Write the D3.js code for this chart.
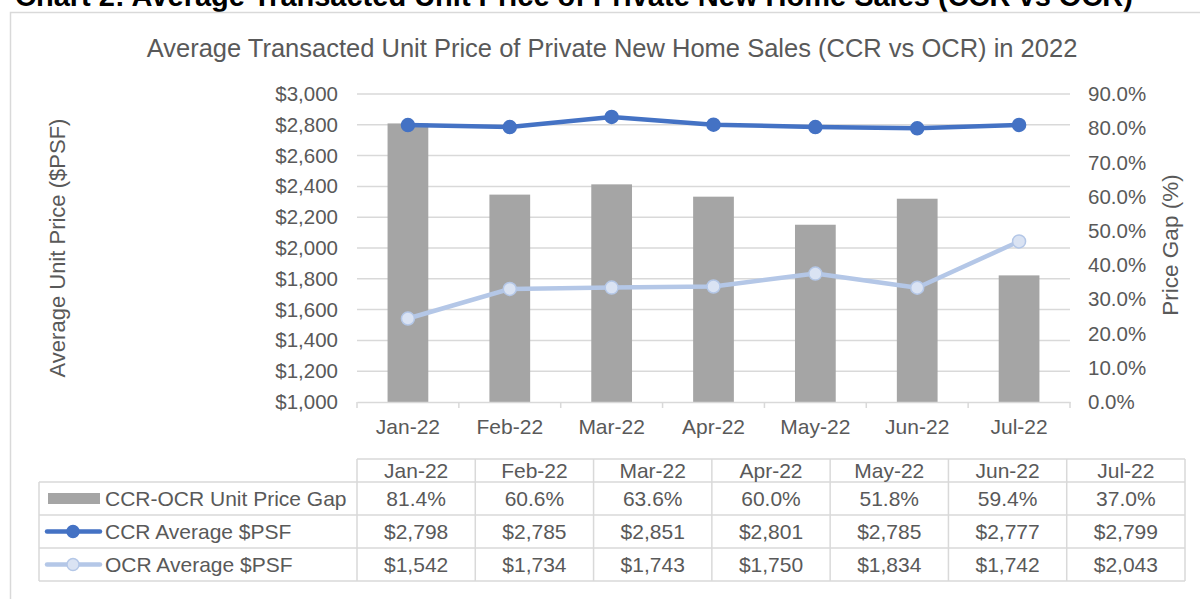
<!DOCTYPE html>
<html>
<head>
<meta charset="utf-8">
<script src="https://cdn.jsdelivr.net/npm/d3@7"></script>
<style>
  body { margin: 0; background: #fff; }
  svg { display: block; font-family: "Liberation Sans", Arial, sans-serif; }
</style>
</head>
<body>
<div id="vis"></div>
<script>
// data
const months = ['Jan-22', 'Feb-22', 'Mar-22', 'Apr-22', 'May-22', 'Jun-22', 'Jul-22'];
const gapPct = [81.4, 60.6, 63.6, 60.0, 51.8, 59.4, 37.0];
const ccrPsf = [2798, 2785, 2851, 2801, 2785, 2777, 2799];
const ocrPsf = [1542, 1734, 1743, 1750, 1834, 1742, 2043];
const priceTicks = [1000, 1200, 1400, 1600, 1800, 2000, 2200, 2400, 2600, 2800, 3000];
const pctTicks = [0, 10, 20, 30, 40, 50, 60, 70, 80, 90];

const width = 1200, height = 599;
const textColor = '#595959';
const gridColor = '#d9d9d9';
const barColor = '#a5a5a5';
const ccrColor = '#4472c4';
const ocrColor = '#b4c7e7';
const ocrFill = '#dae3f3';

const svg = d3.select('#vis').append('svg')
  .attr('width', width)
  .attr('height', height);

// bold header, mostly cut off at the top
svg.append('text')
  .attr('x', 15)
  .attr('y', 6)
  .attr('font-size', 29)
  .attr('font-weight', 'bold')
  .attr('fill', '#000')
  .text('Chart 2: Average Transacted Unit Price of Private New Home Sales (CCR vs OCR)');

// chart frame
svg.append('rect')
  .attr('x', 10.5).attr('y', 12.5)
  .attr('width', 1200).attr('height', 600)
  .attr('fill', 'none')
  .attr('stroke', gridColor)
  .attr('stroke-width', 1.5);

svg.append('text')
  .attr('x', 612)
  .attr('y', 57)
  .attr('text-anchor', 'middle')
  .attr('font-size', 25.5)
  .attr('fill', textColor)
  .text('Average Transacted Unit Price of Private New Home Sales (CCR vs OCR) in 2022');

// scales
const plot = { left: 357, right: 1070, top: 94, bottom: 402 };

const x = d3.scaleBand()
  .domain(months)
  .range([plot.left, plot.right])
  .paddingInner(0.6)
  .paddingOuter(0.3);

const yLeft = d3.scaleLinear().domain([1000, 3000]).range([plot.bottom, plot.top]);
const yRight = d3.scaleLinear().domain([0, 90]).range([plot.bottom, plot.top]);

// gridlines from the left axis
svg.append('g')
  .selectAll('line')
  .data(priceTicks.slice(1))
  .join('line')
  .attr('x1', plot.left).attr('x2', plot.right)
  .attr('y1', d => yLeft(d)).attr('y2', d => yLeft(d))
  .attr('stroke', gridColor)
  .attr('stroke-width', 1.5);

// left axis labels
const fmtPrice = d => '$' + d3.format(',')(d);
const leftAxis = d3.axisLeft(yLeft).tickValues(priceTicks).tickFormat(fmtPrice).tickSize(0).tickPadding(19);
const gL = svg.append('g').attr('transform', `translate(${plot.left},0)`).call(leftAxis);
gL.select('.domain').remove();
gL.selectAll('text').attr('font-size', 20.5).attr('fill', textColor).attr('font-family', 'inherit');

// right axis labels
const rightAxis = d3.axisRight(yRight).tickValues(pctTicks).tickFormat(d => d.toFixed(1) + '%').tickSize(0).tickPadding(18);
const gR = svg.append('g').attr('transform', `translate(${plot.right},0)`).call(rightAxis);
gR.select('.domain').remove();
gR.selectAll('text').attr('font-size', 20.5).attr('fill', textColor).attr('font-family', 'inherit');

// bars (right axis)
svg.append('g')
  .selectAll('rect')
  .data(months)
  .join('rect')
  .attr('x', d => x(d))
  .attr('width', x.bandwidth())
  .attr('y', (d, i) => yRight(gapPct[i]))
  .attr('height', (d, i) => plot.bottom - yRight(gapPct[i]))
  .attr('fill', barColor);

// x axis
const xAxis = d3.axisBottom(x).tickSize(0).tickPadding(17);
const gX = svg.append('g').attr('transform', `translate(0,${plot.bottom})`).call(xAxis);
gX.select('.domain').attr('stroke', gridColor).attr('stroke-width', 1.5);
gX.selectAll('text').attr('font-size', 21).attr('fill', textColor).attr('font-family', 'inherit');
const step = x.step();
const bounds = d3.range(months.length + 1).map(i => plot.left + i * step);
gX.selectAll('.bound')
  .data(bounds)
  .join('line')
  .attr('class', 'bound')
  .attr('x1', d => d).attr('x2', d => d)
  .attr('y1', 0).attr('y2', 6)
  .attr('stroke', gridColor)
  .attr('stroke-width', 1.5);

// lines (left axis)
const cx = d => x(d) + x.bandwidth() / 2;
function drawSeries(values, stroke, fill) {
  const line = d3.line().x((d, i) => cx(months[i])).y(d => yLeft(d));
  svg.append('path')
    .datum(values)
    .attr('d', line)
    .attr('fill', 'none')
    .attr('stroke', stroke)
    .attr('stroke-width', 4.5)
    .attr('stroke-linejoin', 'round');
  svg.append('g')
    .selectAll('circle')
    .data(values)
    .join('circle')
    .attr('cx', (d, i) => cx(months[i]))
    .attr('cy', d => yLeft(d))
    .attr('r', 6.5)
    .attr('fill', fill)
    .attr('stroke', stroke)
    .attr('stroke-width', 1.5);
}
drawSeries(ccrPsf, ccrColor, ccrColor);
drawSeries(ocrPsf, ocrColor, ocrFill);

// axis titles
svg.append('text')
  .attr('transform', 'translate(65,248) rotate(-90)')
  .attr('text-anchor', 'middle')
  .attr('font-size', 22)
  .attr('fill', textColor)
  .text('Average Unit Price ($PSF)');

svg.append('text')
  .attr('transform', 'translate(1178,245) rotate(-90)')
  .attr('text-anchor', 'middle')
  .attr('font-size', 22.5)
  .attr('fill', textColor)
  .text('Price Gap (%)');

// data table
const tbl = { left: 39, colLeft: 357, right: 1185, headTop: 459, rowTop: 482, rowH: 33 };
const col = d3.scaleBand().domain(months).range([tbl.colLeft, tbl.right]);
const rows = [
  { label: 'CCR-OCR Unit Price Gap', values: gapPct.map(v => v.toFixed(1) + '%'), type: 'bar' },
  { label: 'CCR Average $PSF', values: ccrPsf.map(fmtPrice), type: 'ccr' },
  { label: 'OCR Average $PSF', values: ocrPsf.map(fmtPrice), type: 'ocr' }
];
const tblBottom = tbl.rowTop + rows.length * tbl.rowH;
const tg = svg.append('g');

function hline(x1, x2, y) {
  tg.append('line').attr('x1', x1).attr('x2', x2).attr('y1', y).attr('y2', y)
    .attr('stroke', gridColor).attr('stroke-width', 1.5);
}
function vline(xv, y1, y2) {
  tg.append('line').attr('x1', xv).attr('x2', xv).attr('y1', y1).attr('y2', y2)
    .attr('stroke', gridColor).attr('stroke-width', 1.5);
}

hline(tbl.colLeft, tbl.right, tbl.headTop);
rows.forEach((r, i) => hline(tbl.left, tbl.right, tbl.rowTop + i * tbl.rowH));
hline(tbl.left, tbl.right, tblBottom);
vline(tbl.left, tbl.rowTop, tblBottom);
months.forEach(m => vline(col(m), tbl.headTop, tblBottom));
vline(tbl.right, tbl.headTop, tblBottom);

tg.selectAll('.head')
  .data(months)
  .join('text')
  .attr('class', 'head')
  .attr('x', d => col(d) + col.bandwidth() / 2)
  .attr('y', tbl.headTop + 19)
  .attr('text-anchor', 'middle')
  .attr('font-size', 21)
  .attr('fill', textColor)
  .text(d => d);

rows.forEach((r, i) => {
  const top = tbl.rowTop + i * tbl.rowH;
  const mid = top + tbl.rowH / 2;
  tg.selectAll('.v' + i)
    .data(r.values)
    .join('text')
    .attr('x', (d, j) => col(months[j]) + col.bandwidth() / 2)
    .attr('y', mid + 7.5)
    .attr('text-anchor', 'middle')
    .attr('font-size', 21)
    .attr('fill', textColor)
    .text(d => d);

  tg.append('text')
    .attr('x', 105)
    .attr('y', mid + 7.5)
    .attr('font-size', 21)
    .attr('fill', textColor)
    .text(r.label);

  if (r.type === 'bar') {
    tg.append('rect')
      .attr('x', 48).attr('y', mid - 5.5)
      .attr('width', 52).attr('height', 11)
      .attr('fill', barColor);
  } else {
    const stroke = r.type === 'ccr' ? ccrColor : ocrColor;
    const fill = r.type === 'ccr' ? ccrColor : ocrFill;
    tg.append('line')
      .attr('x1', 47).attr('x2', 100)
      .attr('y1', mid).attr('y2', mid)
      .attr('stroke', stroke)
      .attr('stroke-width', 4.5)
      .attr('stroke-linecap', 'round');
    tg.append('circle')
      .attr('cx', 73).attr('cy', mid)
      .attr('r', 6)
      .attr('fill', fill)
      .attr('stroke', stroke)
      .attr('stroke-width', 1.5);
  }
});
</script>
</body>
</html>
